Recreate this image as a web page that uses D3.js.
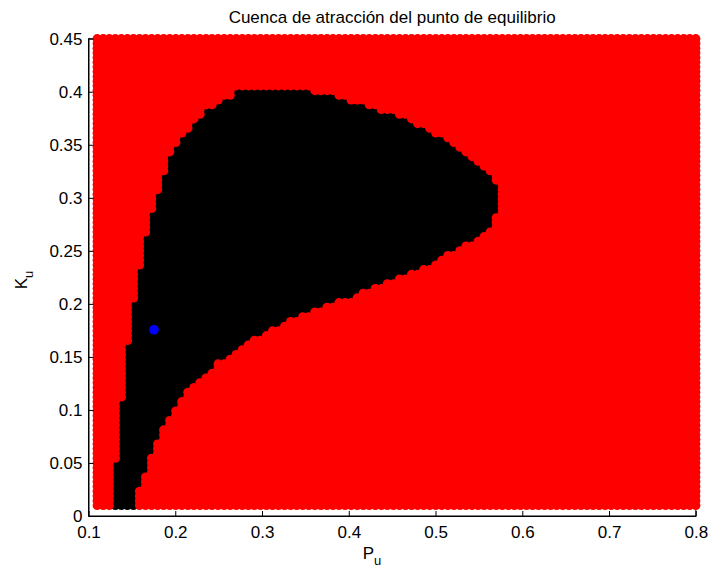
<!doctype html>
<html lang="en">
<head>
<meta charset="utf-8" />
<title>Cuenca de atracción</title>
<script src="https://d3js.org/d3.v7.min.js"></script>
<style>
  body { margin: 0; background: #fff; }
  svg text { font-family: "Liberation Sans", Arial, Helvetica, sans-serif; fill: #000; }
</style>
</head>
<body>
<div id="chart"></div>
<script>
// grid of initial conditions (Pu, Ku) that was simulated
var puMin = 0.11, puMax = 0.8, nPu = 100;
var kuMin = 0.01, kuMax = 0.45, nKu = 100;

// border of the black region (points that converge)
var basinPu = [0.1269, 0.1269, 0.1338, 0.1403, 0.1469, 0.1542, 0.1611, 0.1669, 0.1749, 0.1830,
  0.1888, 0.1957, 0.2095, 0.2245, 0.2383, 0.2458, 0.2654, 0.2746, 0.3472,
  0.3553, 0.3830, 0.4222, 0.4602, 0.4983, 0.5179, 0.5444, 0.5640, 0.5732, 0.5732,
  0.5674, 0.5524, 0.5293, 0.4983, 0.4602, 0.4222, 0.4014, 0.3841, 0.3490, 0.3305,
  0.3109, 0.2959, 0.2798, 0.2683, 0.2568, 0.2452, 0.2380, 0.2264, 0.2187, 0.2107,
  0.2034, 0.1957, 0.1899, 0.1818, 0.1757, 0.1688, 0.1619, 0.1553, 0.1553];
var basinKu = [0, 0.0255, 0.0745, 0.1310, 0.1782, 0.2159, 0.2470, 0.2715, 0.2932, 0.3130,
  0.3290, 0.3441, 0.3592, 0.3733, 0.3865, 0.3884, 0.3969, 0.4054, 0.4054,
  0.4016, 0.3969, 0.3865, 0.3771, 0.3620, 0.3526, 0.3338, 0.3225, 0.3102, 0.2951,
  0.2753, 0.2621, 0.2527, 0.2385, 0.2244, 0.2121, 0.2046, 0.1999, 0.1895, 0.1829,
  0.1754, 0.1688, 0.1603, 0.1537, 0.1471, 0.1414, 0.1348, 0.1282, 0.1216, 0.1131,
  0.1046, 0.0952, 0.0858, 0.0754, 0.0613, 0.0471, 0.0321, 0.0141, 0];

// equilibrium point
var eqPu = [0.1755];
var eqKu = [0.1756];

var xTicks = [0.1, 0.2, 0.3, 0.4, 0.5, 0.6, 0.7, 0.8];
var xTickLabels = ["0.1", "0.2", "0.3", "0.4", "0.5", "0.6", "0.7", "0.8"];
var yTicks = [0, 0.05, 0.1, 0.15, 0.2, 0.25, 0.3, 0.35, 0.4, 0.45];
var yTickLabels = ["0", "0.05", "0.1", "0.15", "0.2", "0.25", "0.3", "0.35", "0.4", "0.45"];

var width = 709, height = 571;
var plotLeft = 88.5, plotRight = 695.8, plotTop = 38.7, plotBottom = 516;

var svg = d3.select("#chart").append("svg")
  .attr("width", width)
  .attr("height", height);

var x = d3.scaleLinear().domain([0.1, 0.8]).range([plotLeft, plotRight]);
var y = d3.scaleLinear().domain([0, 0.45]).range([plotBottom, plotTop]);

// build the grid and split it into converging / not converging
var basin = basinPu.map(function(p, i) { return [p, basinKu[i]]; });
var puGrid = d3.range(nPu).map(function(i) { return puMin + i * (puMax - puMin) / (nPu - 1); });
var kuGrid = d3.range(nKu).map(function(j) { return kuMin + j * (kuMax - kuMin) / (nKu - 1); });
var inside = [], outside = [];
kuGrid.forEach(function(k) {
  puGrid.forEach(function(p) {
    if (d3.polygonContains(basin, [p, k])) inside.push([p, k]);
    else outside.push([p, k]);
  });
});

// box behind the markers
svg.append("rect")
  .attr("x", plotLeft).attr("y", plotTop)
  .attr("width", plotRight - plotLeft).attr("height", plotBottom - plotTop)
  .attr("fill", "none").attr("stroke", "#000").attr("stroke-width", 1);

var r = 4.6;
svg.append("g").selectAll("circle")
  .data(inside)
  .enter().append("circle")
  .attr("cx", function(d) { return x(d[0]); })
  .attr("cy", function(d) { return y(d[1]); })
  .attr("r", r)
  .attr("fill", "#000");

svg.append("g").selectAll("circle")
  .data(outside)
  .enter().append("circle")
  .attr("cx", function(d) { return x(d[0]); })
  .attr("cy", function(d) { return y(d[1]); })
  .attr("r", r)
  .attr("fill", "#ff0000");

svg.append("g").selectAll("circle")
  .data(eqPu)
  .enter().append("circle")
  .attr("cx", function(d) { return x(d); })
  .attr("cy", function(d, i) { return y(eqKu[i]); })
  .attr("r", 4.8)
  .attr("fill", "#0000ff");

// axes (ticks pointing inwards like matlab)
var xAxis = d3.axisBottom(x)
  .tickValues(xTicks)
  .tickFormat(function(d, i) { return xTickLabels[i]; })
  .tickSizeInner(-5).tickSizeOuter(0).tickPadding(10);
var yAxis = d3.axisLeft(y)
  .tickValues(yTicks)
  .tickFormat(function(d, i) { return yTickLabels[i]; })
  .tickSizeInner(-5).tickSizeOuter(0).tickPadding(6);

var gx = svg.append("g").attr("transform", "translate(0," + plotBottom + ")").call(xAxis);
var gy = svg.append("g").attr("transform", "translate(" + plotLeft + ",0)").call(yAxis);
[gx, gy].forEach(function(g) {
  g.select(".domain").attr("stroke", "#000");
  g.selectAll("line").attr("stroke", "#000");
  g.selectAll("text").attr("font-size", "17px").attr("font-family", null);
});

// title and labels
svg.append("text")
  .attr("x", (plotLeft + plotRight) / 2)
  .attr("y", 23)
  .attr("text-anchor", "middle")
  .attr("font-size", "17px")
  .text("Cuenca de atracción del punto de equilibrio");

var xl = svg.append("text")
  .attr("x", 372)
  .attr("y", 559)
  .attr("text-anchor", "middle")
  .attr("font-size", "17px");
xl.append("tspan").text("P");
xl.append("tspan").attr("dy", 6).attr("font-size", "13px").text("u");

var yl = svg.append("text")
  .attr("transform", "translate(27,280) rotate(-90)")
  .attr("text-anchor", "middle")
  .attr("font-size", "17px");
yl.append("tspan").text("K");
yl.append("tspan").attr("dy", 6).attr("font-size", "13px").text("u");
</script>
</body>
</html>
